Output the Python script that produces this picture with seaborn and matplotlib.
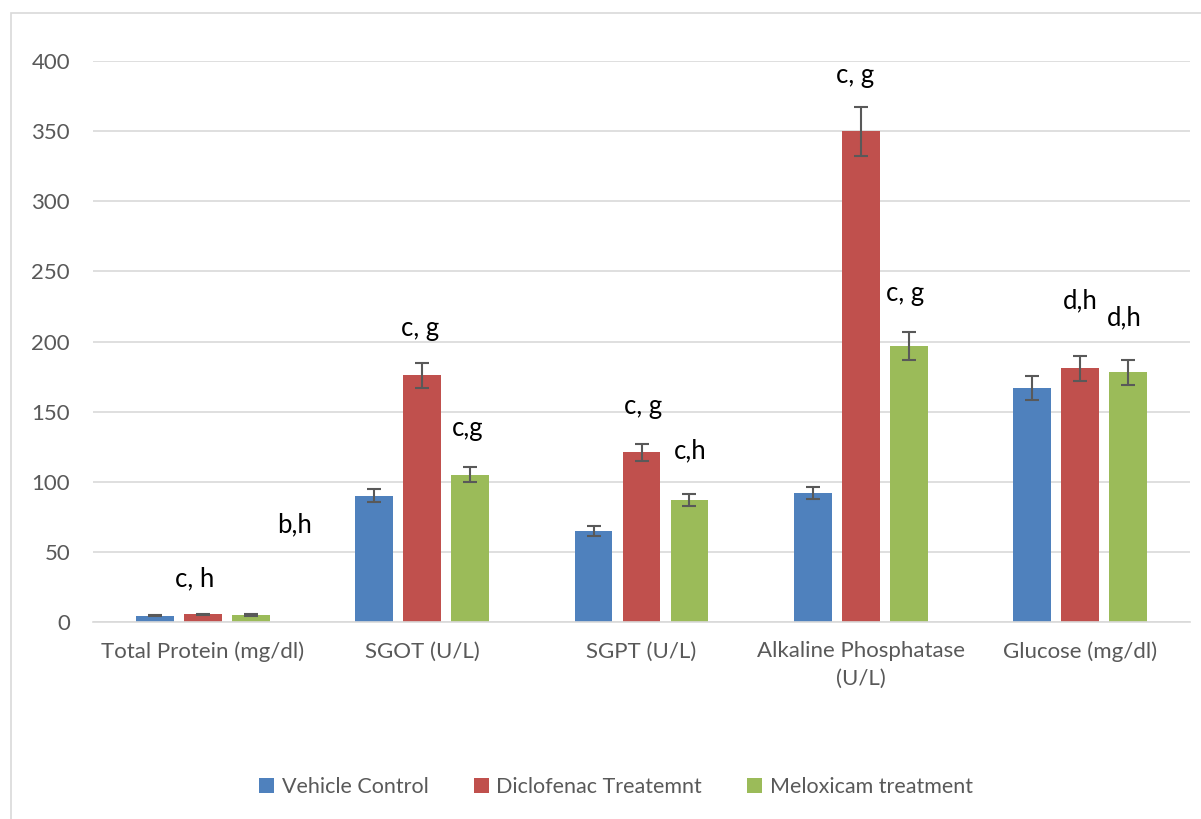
import numpy as np
import pandas as pd
import matplotlib
matplotlib.use("Agg")
import matplotlib.pyplot as plt
import seaborn as sns
from matplotlib.patches import Rectangle, Patch

# Serum biochemistry parameters
categories = ["Total Protein (mg/dl)", "SGOT (U/L)", "SGPT (U/L)",
              "Alkaline Phosphatase\n(U/L)", "Glucose (mg/dl)"]
groups = ["Vehicle Control", "Diclofenac Treatemnt", "Meloxicam treatment"]

vehicle_mean = [4.5, 90, 65, 92, 167]
diclofenac_mean = [5.5, 176, 121, 350, 181]
meloxicam_mean = [5.0, 105, 87, 197, 178]

vehicle_err = [0.5, 4.5, 3.5, 4.5, 8.5]
diclofenac_err = [0.5, 9, 6, 17.5, 9]
meloxicam_err = [0.5, 5.5, 4.5, 10, 9]

# Significance letters and where they sit (category offset, y value)
sig_labels = ["c, h", "b,h", "c, g", "c,g", "c, g", "c,h", "c, g", "c, g", "d,h", "d,h"]
sig_places = [(-0.035, 31), (0.417, 69), (0.99, 209), (1.21, 138), (2.007, 154),
              (2.22, 122), (2.973, 390), (3.2, 234), (3.998, 229), (4.2, 217)]

colors = ["#4F81BD", "#C0504D", "#9BBB59"]

means = [vehicle_mean, diclofenac_mean, meloxicam_mean]
errs = [vehicle_err, diclofenac_err, meloxicam_err]
df = pd.DataFrame({
    "parameter": np.tile(categories, len(groups)),
    "group": np.repeat(groups, len(categories)),
    "value": np.concatenate(means),
    "err": np.concatenate(errs),
})

sns.set_style("white")
plt.rcParams["font.family"] = ["Lato", "DejaVu Sans"]

fig = plt.figure(figsize=(12.01, 8.19), dpi=100)
W, H = 1201, 819
ax = fig.add_axes([93 / W, 1 - 622 / H, (1190 - 93) / W, (622 - 61) / H])

sns.barplot(data=df, x="parameter", y="value", hue="group", order=categories,
            hue_order=groups, palette=colors, width=0.656, gap=0.21,
            errorbar=None, saturation=1, linewidth=0, ax=ax, legend=False)

# Error bars at the centre of each drawn bar
for g_idx, g in enumerate(groups):
    cont = ax.containers[g_idx]
    xs = [p.get_x() + p.get_width() / 2 for p in cont.patches]
    ys = [p.get_height() for p in cont.patches]
    ax.errorbar(xs, ys, yerr=errs[g_idx], fmt="none", ecolor="#595959",
                elinewidth=1.5, capsize=5, capthick=1.5, zorder=5)

for lab, (xo, yv) in zip(sig_labels, sig_places):
    ax.text(xo, yv, lab, ha="center", va="center", fontsize=18.5, color="black")

ax.set_ylim(0, 400)
ax.set_xlim(-0.5, 4.5)
ax.set_yticks(range(0, 401, 50))
ax.yaxis.grid(True, color="#D9D9D9", linewidth=1.2)
ax.set_axisbelow(True)
for s in ["left", "right", "top"]:
    ax.spines[s].set_visible(False)
ax.spines["bottom"].set_color("#D9D9D9")
ax.spines["bottom"].set_linewidth(1.2)
ax.tick_params(axis="both", length=0, labelsize=16, labelcolor="#595959")
ax.tick_params(axis="y", pad=16.5)
ax.tick_params(axis="x", pad=14)
for t in ax.get_xticklabels():
    t.set_linespacing(1.45)
ax.set_xlabel("")
ax.set_ylabel("")

handles = [Patch(facecolor=c, edgecolor="none") for c in colors]
fig.legend(handles, groups, loc="center", bbox_to_anchor=(0.513, 1 - 787 / H),
           ncol=3, frameon=False, fontsize=15.5, labelcolor="#595959",
           handlelength=0.7, handleheight=0.7, handletextpad=0.35,
           columnspacing=2.1)

# Chart area border
fig.patches.append(Rectangle((11 / W, -0.05), 1.2, 1 - 13 / H + 0.05,
                             transform=fig.transFigure, fill=False,
                             edgecolor="#D9D9D9", linewidth=1.2))

fig.savefig("out.png", dpi=100)
